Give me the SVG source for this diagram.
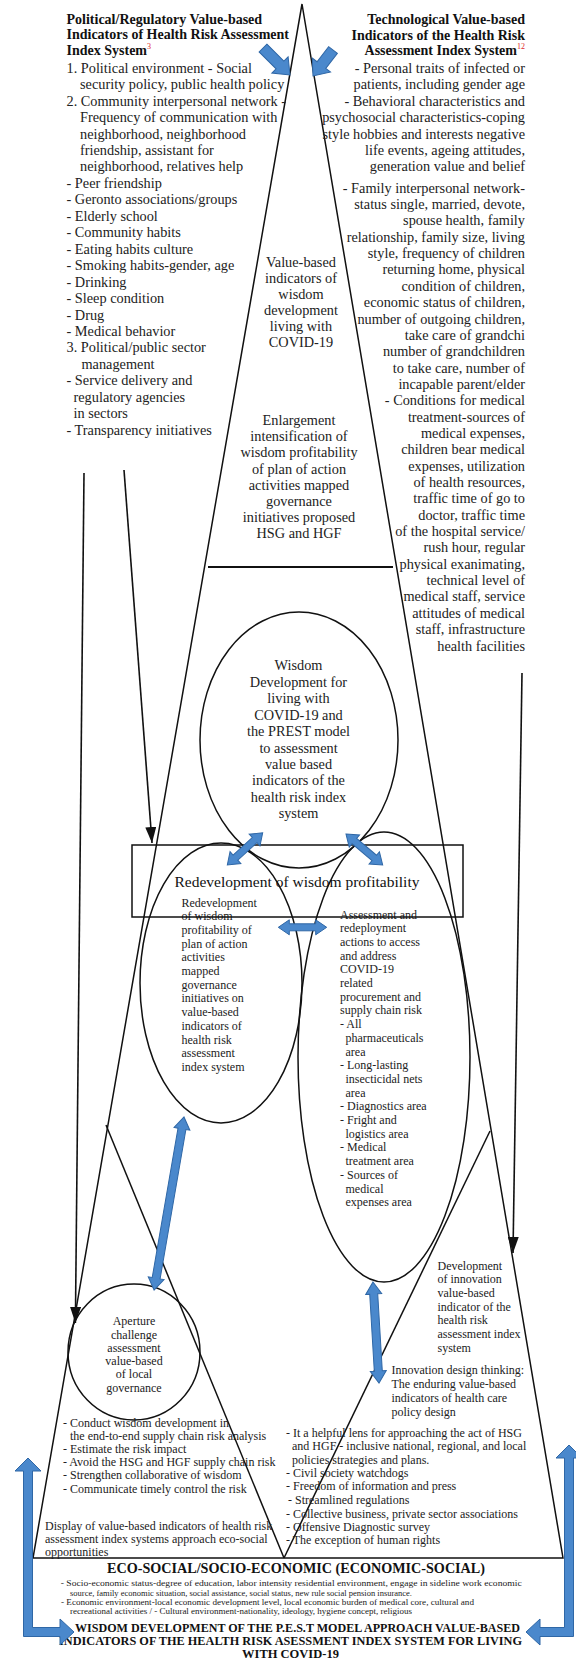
<svg xmlns="http://www.w3.org/2000/svg" width="576" height="1660" viewBox="0 0 576 1660">
<style>
text{font-family:"Liberation Serif","Times New Roman",serif;fill:#222;}
.t14{font-size:14.3px;}
.b14{font-size:14px;font-weight:bold;fill:#111;}
.t12{font-size:12px;}
.mid{text-anchor:middle;}
.end{text-anchor:end;}
.sup{font-size:8px;fill:#e02828;font-weight:normal;}
.ln{fill:none;stroke:#111;stroke-width:1.5;}
.arr{fill:none;stroke:#111;stroke-width:1.6;marker-end:url(#ah);}
.blue{fill:#4a88cc;stroke:#2f67a6;stroke-width:1;}
.small{font-size:8.5px;}
.bt{font-weight:bold;fill:#111;}
</style>
<defs>
<marker id="ah" viewBox="0 0 16 11" refX="16" refY="5.5" markerWidth="16" markerHeight="11" markerUnits="userSpaceOnUse" orient="auto" preserveAspectRatio="none"><path d="M0,0 L16,5.5 L0,11 Z" fill="#111"/></marker>
</defs>
<rect width="576" height="1660" fill="#fff"/>

<g id="pyramid">
<path class="ln" d="M302,4 L33,1558 L563,1558 Z"/>
<line x1="208" y1="567" x2="393" y2="567" stroke="#111" stroke-width="2"/>
<line class="ln" x1="106" y1="1125" x2="284" y2="1558"/>
<line class="ln" x1="490" y1="1131" x2="284" y2="1558"/>
</g>

<g id="political-panel">
<text class="b14" x="66.5" y="24">Political/Regulatory Value-based</text>
<text class="b14" x="66.5" y="38.5">Indicators of Health Risk Assessment</text>
<text class="b14" x="66.5" y="55">Index System<tspan class="sup" dy="-6">3</tspan></text>
<text class="t14" x="66.5" y="72.7">1. Political environment - Social</text>
<text class="t14" x="80" y="89.2">security policy, public health policy</text>
<text class="t14" x="66.5" y="105.6">2. Community interpersonal network -</text>
<text class="t14" x="80" y="122">Frequency of communication with</text>
<text class="t14" x="80" y="138.5">neighborhood, neighborhood</text>
<text class="t14" x="80" y="155">friendship, assistant for</text>
<text class="t14" x="80" y="171.4">neighborhood, relatives help</text>
<text class="t14" x="66.5" y="187.9">- Peer friendship</text>
<text class="t14" x="66.5" y="204.3">- Geronto associations/groups</text>
<text class="t14" x="66.5" y="220.8">- Elderly school</text>
<text class="t14" x="66.5" y="237.2">- Community habits</text>
<text class="t14" x="66.5" y="253.7">- Eating habits culture</text>
<text class="t14" x="66.5" y="270.1">- Smoking habits-gender, age</text>
<text class="t14" x="66.5" y="286.6">- Drinking</text>
<text class="t14" x="66.5" y="303">- Sleep condition</text>
<text class="t14" x="66.5" y="319.5">- Drug</text>
<text class="t14" x="66.5" y="336">- Medical behavior</text>
<text class="t14" x="66.5" y="352.4">3. Political/public sector</text>
<text class="t14" x="81.5" y="368.8">management</text>
<text class="t14" x="66.5" y="385.3">- Service delivery and</text>
<text class="t14" x="73.5" y="401.7">regulatory agencies</text>
<text class="t14" x="73.5" y="418.2">in sectors</text>
<text class="t14" x="66.5" y="434.6">- Transparency initiatives</text>
</g>

<g id="technological-panel">
<text class="b14 end" x="525" y="23.5">Technological Value-based</text>
<text class="b14 end" x="525" y="39.5">Indicators of the Health Risk</text>
<text class="b14 end" x="525" y="55">Assessment Index System<tspan class="sup" dy="-6">12</tspan></text>
<text class="t14 end" x="525" y="72.7">- Personal traits of infected or</text>
<text class="t14 end" x="525" y="89.2">patients, including gender age</text>
<text class="t14 end" x="525" y="105.6">- Behavioral characteristics and</text>
<text class="t14 end" x="525" y="122">psychosocial characteristics-coping</text>
<text class="t14 end" x="525" y="138.5">style hobbies and interests negative</text>
<text class="t14 end" x="525" y="155">life events, ageing attitudes,</text>
<text class="t14 end" x="525" y="171.4">generation value and belief</text>
<text class="t14 end" x="525" y="192.7">- Family interpersonal network-</text>
<text class="t14 end" x="525" y="209">status single, married, devote,</text>
<text class="t14 end" x="525" y="225.4">spouse health, family</text>
<text class="t14 end" x="525" y="241.7">relationship, family size, living</text>
<text class="t14 end" x="525" y="258.1">style, frequency of children</text>
<text class="t14 end" x="525" y="274.4">returning home, physical</text>
<text class="t14 end" x="525" y="290.8">condition of children,</text>
<text class="t14 end" x="525" y="307.1">economic status of children,</text>
<text class="t14 end" x="525" y="323.5">number of outgoing children,</text>
<text class="t14 end" x="525" y="339.8">take care of grandchi</text>
<text class="t14 end" x="525" y="356.2">number of grandchildren</text>
<text class="t14 end" x="525" y="372.5">to take care, number of</text>
<text class="t14 end" x="525" y="388.9">incapable parent/elder</text>
<text class="t14 end" x="525" y="405.2">- Conditions for medical</text>
<text class="t14 end" x="525" y="421.6">treatment-sources of</text>
<text class="t14 end" x="525" y="437.9">medical expenses,</text>
<text class="t14 end" x="525" y="454.3">children bear medical</text>
<text class="t14 end" x="525" y="470.6">expenses, utilization</text>
<text class="t14 end" x="525" y="487">of health resources,</text>
<text class="t14 end" x="525" y="503.3">traffic time of go to</text>
<text class="t14 end" x="525" y="519.7">doctor, traffic time</text>
<text class="t14 end" x="525" y="536">of the hospital service/</text>
<text class="t14 end" x="525" y="552.4">rush hour, regular</text>
<text class="t14 end" x="525" y="568.7">physical exanimating,</text>
<text class="t14 end" x="525" y="585.1">technical level of</text>
<text class="t14 end" x="525" y="601.4">medical staff, service</text>
<text class="t14 end" x="525" y="617.8">attitudes of medical</text>
<text class="t14 end" x="525" y="634.1">staff, infrastructure</text>
<text class="t14 end" x="525" y="650.5">health facilities</text>
</g>

<g id="apex-text">
<text class="t14 mid" x="301" y="266.7">Value-based</text>
<text class="t14 mid" x="301" y="282.7">indicators of</text>
<text class="t14 mid" x="301" y="298.7">wisdom</text>
<text class="t14 mid" x="301" y="314.7">development</text>
<text class="t14 mid" x="301" y="330.7">living with</text>
<text class="t14 mid" x="301" y="346.7">COVID-19</text>
</g>

<g id="enlargement-text">
<text class="t14 mid" x="299" y="425">Enlargement</text>
<text class="t14 mid" x="299" y="441.2">intensification of</text>
<text class="t14 mid" x="299" y="457.4">wisdom profitability</text>
<text class="t14 mid" x="299" y="473.6">of plan of action</text>
<text class="t14 mid" x="299" y="489.8">activities mapped</text>
<text class="t14 mid" x="299" y="506">governance</text>
<text class="t14 mid" x="299" y="522.2">initiatives proposed</text>
<text class="t14 mid" x="299" y="538.4">HSG and HGF</text>
</g>

<g id="wisdom-circle">
<ellipse class="ln" cx="299" cy="740" rx="99" ry="128"/>
<text class="t14 mid" x="298.5" y="670.2">Wisdom</text>
<text class="t14 mid" x="298.5" y="686.7">Development for</text>
<text class="t14 mid" x="298.5" y="703.1">living with</text>
<text class="t14 mid" x="298.5" y="719.6">COVID-19 and</text>
<text class="t14 mid" x="298.5" y="736">the PREST model</text>
<text class="t14 mid" x="298.5" y="752.5">to assessment</text>
<text class="t14 mid" x="298.5" y="768.9">value based</text>
<text class="t14 mid" x="298.5" y="785.4">indicators of the</text>
<text class="t14 mid" x="298.5" y="801.8">health risk index</text>
<text class="t14 mid" x="298.5" y="818.3">system</text>
</g>

<g id="left-ellipse">
<ellipse class="ln" cx="221" cy="983" rx="81" ry="140"/>
<text class="t12" x="181.5" y="906.5">Redevelopment</text>
<text class="t12" x="181.5" y="920.2">of wisdom</text>
<text class="t12" x="181.5" y="933.9">profitability of</text>
<text class="t12" x="181.5" y="947.6">plan of action</text>
<text class="t12" x="181.5" y="961.3">activities</text>
<text class="t12" x="181.5" y="975">mapped</text>
<text class="t12" x="181.5" y="988.7">governance</text>
<text class="t12" x="181.5" y="1002.4">initiatives on</text>
<text class="t12" x="181.5" y="1016.1">value-based</text>
<text class="t12" x="181.5" y="1029.8">indicators of</text>
<text class="t12" x="181.5" y="1043.5">health risk</text>
<text class="t12" x="181.5" y="1057.2">assessment</text>
<text class="t12" x="181.5" y="1070.9">index system</text>
</g>

<g id="right-ellipse">
<ellipse class="ln" cx="384" cy="1057" rx="86" ry="225"/>
<text class="t12" x="340" y="918.5">Assessment and</text>
<text class="t12" x="340" y="932.2">redeployment</text>
<text class="t12" x="340" y="945.9">actions to access</text>
<text class="t12" x="340" y="959.6">and address</text>
<text class="t12" x="340" y="973.3">COVID-19</text>
<text class="t12" x="340" y="987">related</text>
<text class="t12" x="340" y="1000.7">procurement and</text>
<text class="t12" x="340" y="1014.4">supply chain risk</text>
<text class="t12" x="340" y="1028.1">- All</text>
<text class="t12" x="345.5" y="1041.8">pharmaceuticals</text>
<text class="t12" x="345.5" y="1055.5">area</text>
<text class="t12" x="340" y="1069.2">- Long-lasting</text>
<text class="t12" x="345.5" y="1082.9">insecticidal nets</text>
<text class="t12" x="345.5" y="1096.6">area</text>
<text class="t12" x="340" y="1110.3">- Diagnostics area</text>
<text class="t12" x="340" y="1124">- Fright and</text>
<text class="t12" x="345.5" y="1137.7">logistics area</text>
<text class="t12" x="340" y="1151.4">- Medical</text>
<text class="t12" x="345.5" y="1165.1">treatment area</text>
<text class="t12" x="340" y="1178.8">- Sources of</text>
<text class="t12" x="345.5" y="1192.5">medical</text>
<text class="t12" x="345.5" y="1206.2">expenses area</text>
</g>

<g id="redevelopment-box">
<rect x="132" y="845" width="331" height="72" fill="none" stroke="#111" stroke-width="1.5"/>
<text class="mid" x="297" y="887" style="font-size:15.5px;fill:#111">Redevelopment of wisdom profitability</text>
</g>

<g id="aperture-circle">
<ellipse class="ln" cx="134" cy="1352" rx="66" ry="68"/>
<text class="t12 mid" x="134" y="1325.2">Aperture</text>
<text class="t12 mid" x="134" y="1338.5">challenge</text>
<text class="t12 mid" x="134" y="1351.8">assessment</text>
<text class="t12 mid" x="134" y="1365.1">value-based</text>
<text class="t12 mid" x="134" y="1378.4">of local</text>
<text class="t12 mid" x="134" y="1391.7">governance</text>
</g>

<g id="innovation-dev">
<text class="t12" x="437.5" y="1269.5">Development</text>
<text class="t12" x="437.5" y="1283.2">of innovation</text>
<text class="t12" x="437.5" y="1296.9">value-based</text>
<text class="t12" x="437.5" y="1310.6">indicator of the</text>
<text class="t12" x="437.5" y="1324.3">health risk</text>
<text class="t12" x="437.5" y="1338">assessment index</text>
<text class="t12" x="437.5" y="1351.7">system</text>
</g>

<g id="innovation-design">
<text class="t12" x="391.5" y="1374.2">Innovation design thinking:</text>
<text class="t12" x="391.5" y="1388.3">The enduring value-based</text>
<text class="t12" x="391.5" y="1401.8">indicators of health care</text>
<text class="t12" x="391.5" y="1415.8">policy design</text>
</g>

<g id="left-list">
<text class="t12" x="63" y="1426.5">- Conduct wisdom development in</text>
<text class="t12" x="70" y="1439.7">the end-to-end supply chain risk analysis</text>
<text class="t12" x="63" y="1452.9">- Estimate the risk impact</text>
<text class="t12" x="63" y="1466.1">- Avoid the HSG and HGF supply chain risk</text>
<text class="t12" x="63" y="1479.3">- Strengthen collaborative of wisdom</text>
<text class="t12" x="63" y="1492.5">- Communicate timely control the risk</text>
</g>

<g id="display-text">
<text class="t12" x="45" y="1530">Display of value-based indicators of health risk</text>
<text class="t12" x="45" y="1543">assessment index systems approach eco-social</text>
<text class="t12" x="45" y="1556">opportunities</text>
</g>

<g id="right-list">
<text class="t12" x="286" y="1436.8">- It a helpful lens for approaching the act of HSG</text>
<text class="t12" x="292" y="1450.2">and HGF - inclusive national, regional, and local</text>
<text class="t12" x="292" y="1463.5">policies strategies and plans.</text>
<text class="t12" x="286" y="1476.8">- Civil society watchdogs</text>
<text class="t12" x="286" y="1490.2">- Freedom of information and press</text>
<text class="t12" x="288" y="1503.5">- Streamlined regulations</text>
<text class="t12" x="286" y="1517.5">- Collective business, private sector associations</text>
<text class="t12" x="286" y="1530.8">- Offensive Diagnostic survey</text>
<text class="t12" x="286" y="1544.2">- The exception of human rights</text>
</g>

<g id="eco-social">
<text class="bt mid" x="296" y="1573" style="font-size:14px" textLength="378" lengthAdjust="spacingAndGlyphs">ECO-SOCIAL/SOCIO-ECONOMIC (ECONOMIC-SOCIAL)</text>
<text class="small" x="60.7" y="1586" textLength="461" lengthAdjust="spacingAndGlyphs">- Socio-economic status-degree of education, labor intensity residential environment, engage in sideline work economic</text>
<text class="small" x="70" y="1595.5" textLength="342" lengthAdjust="spacingAndGlyphs">source, family economic situation, social assistance, social status, new rule social pension insurance.</text>
<text class="small" x="61" y="1604.5" textLength="413" lengthAdjust="spacingAndGlyphs">- Economic environment-local economic development level, local economic burden of medical core, cultural and</text>
<text class="small" x="70" y="1614" textLength="342" lengthAdjust="spacingAndGlyphs">recreational activities / - Cultural environment-nationality, ideology, hygiene concept, religious</text>
</g>

<g id="pest-title">
<text class="bt mid" x="297.5" y="1632" style="font-size:12.5px" textLength="445" lengthAdjust="spacingAndGlyphs">WISDOM DEVELOPMENT OF THE P.E.S.T MODEL APPROACH VALUE-BASED</text>
<text class="bt mid" x="290.5" y="1645" style="font-size:12.5px" textLength="463" lengthAdjust="spacingAndGlyphs">INDICATORS OF THE HEALTH RISK ASESSMENT INDEX SYSTEM FOR LIVING</text>
<text class="bt mid" x="290.5" y="1658" style="font-size:12.5px">WITH COVID-19</text>
</g>

<g id="connectors">
<line class="arr" x1="124" y1="470" x2="152" y2="843"/>
<line class="arr" x1="84" y1="473" x2="75.4" y2="1323"/>
<line class="arr" x1="522" y1="673" x2="513" y2="1253"/>
<path class="blue" transform="translate(263,48) rotate(45)" d="M0,-5.5 L24,-5.5 L24,-11.5 L38.2,0 L24,11.5 L24,5.5 L0,5.5 Z"/>
<path class="blue" transform="translate(333,50) rotate(127.6)" d="M0,-5.5 L19,-5.5 L19,-11.5 L32.8,0 L19,11.5 L19,5.5 L0,5.5 Z"/>
<path class="blue" transform="translate(262.7,832.7) rotate(137.6)" d="M0,0 L11,-8 L11,-3.5 L36.9,-3.5 L36.9,-8 L47.9,0 L36.9,8 L36.9,3.5 L11,3.5 L11,8 Z"/>
<path class="blue" transform="translate(346,834) rotate(40.2)" d="M0,0 L11,-8 L11,-3.5 L37,-3.5 L37,-8 L48,0 L37,8 L37,3.5 L11,3.5 L11,8 Z"/>
<path class="blue" transform="translate(278.3,927.3)" d="M0,0 L11,-7.5 L11,-3.5 L37.4,-3.5 L37.4,-7.5 L48.4,0 L37.4,7.5 L37.4,3.5 L11,3.5 L11,7.5 Z"/>
<path class="blue" transform="translate(184,1117) rotate(99.8)" d="M0,0 L12,-8 L12,-4 L163.6,-4 L163.6,-8 L175.6,0 L163.6,8 L163.6,4 L12,4 L12,8 Z"/>
<path class="blue" transform="translate(373,1282) rotate(86.6)" d="M0,0 L12,-8 L12,-4 L89.2,-4 L89.2,-8 L101.2,0 L89.2,8 L89.2,4 L12,4 L12,8 Z"/>
<path class="blue" d="M28,1458 L41,1471 L32.5,1471 L32.5,1627.5 L60,1627.5 L60,1619 L74,1632 L60,1645 L60,1636.5 L23.5,1636.5 L23.5,1471 L15,1471 Z"/>
<path class="blue" d="M569,1445 L582,1458 L573.5,1458 L573.5,1636.5 L540,1636.5 L540,1645 L526,1632 L540,1619 L540,1627.5 L564.5,1627.5 L564.5,1458 L556,1458 Z"/>
</g>
</svg>
